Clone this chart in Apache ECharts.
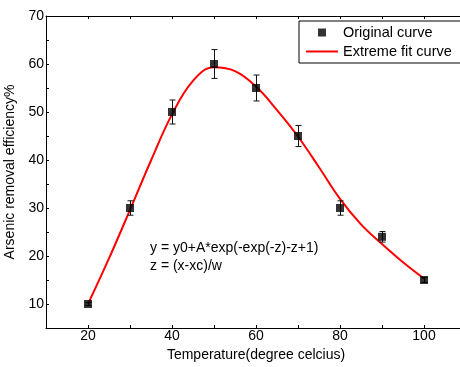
<!DOCTYPE html>
<html>
<head>
<meta charset="utf-8">
<script src="https://cdn.jsdelivr.net/npm/echarts@6/dist/echarts.min.js"></script>
<style>
  html, body { margin: 0; padding: 0; background: #fff; }
  #chart { width: 460px; height: 367px; }
</style>
</head>
<body>
<div id="chart"></div>
<script>
// measured points with error bars
const temps = [20, 30, 40, 50, 60, 70, 80, 90, 100];
const efficiency = [10, 30, 50, 60, 55, 45, 30, 24, 15];
const errors = [0.3, 1.5, 2.5, 3, 2.7, 2.2, 1.5, 1.1, 0.5];

// fitted curve
const fitX = [20, 25, 30, 35, 40, 45, 50, 55, 60, 65, 70, 75, 80, 85, 90, 95, 100];
const fitY = [10, 19.5, 29.6, 39.9, 49.5, 56.5, 59.3, 58.5, 55.3, 50.4, 44.9, 38.5, 31.9, 26.6, 22.5, 18.7, 15.3];

const font = "Liberation Sans, Arial, sans-serif";
const chart = echarts.init(document.getElementById("chart"));

chart.setOption({
  animation: false,
  textStyle: { fontFamily: font },
  grid: { left: 46, top: 16, width: 420, height: 312, outerBoundsMode: "none" },
  legend: {
    left: 299,
    top: 21,
    orient: "vertical",
    borderColor: "#000",
    borderWidth: 1,
    borderRadius: 0,
    padding: [4, 10, 4, 7],
    itemGap: 4,
    itemWidth: 32,
    itemHeight: 8,
    textStyle: { fontSize: 14.5, color: "#000", fontFamily: font },
    data: [
      { name: "Original curve", icon: "path://M0,0M32,8M12,0h8v8h-8z", itemStyle: { color: "#000" } },
      { name: "Extreme fit curve", icon: "path://M0,0M32,8M0,3h32v2h-32z", itemStyle: { color: "#ff0000" } },
    ],
  },
  xAxis: [
    {
      type: "value",
      min: 10,
      max: 110,
      interval: 10,
      name: "Temperature(degree celcius)",
      nameLocation: "middle",
      nameGap: 20,
      nameTextStyle: { fontSize: 14, color: "#000" },
      axisLine: { lineStyle: { color: "#000", width: 1 } },
      axisTick: { inside: true, length: 3, lineStyle: { color: "#000" } },
      axisLabel: {
        margin: 1,
        fontSize: 14,
        color: "#000",
        formatter: (v) => (v % 20 === 0 && v >= 20 && v <= 100 ? String(v) : ""),
      },
      splitLine: { show: false },
    },
    {
      type: "value",
      position: "top",
      min: 10,
      max: 110,
      interval: 10,
      axisLine: { show: true, lineStyle: { color: "#000", width: 1 } },
      axisTick: { inside: true, length: 3, lineStyle: { color: "#000" } },
      axisLabel: { show: false },
      splitLine: { show: false },
    },
  ],
  yAxis: {
    type: "value",
    min: 5,
    max: 70,
    interval: 5,
    name: "Arsenic removal efficiency%",
    nameLocation: "middle",
    nameGap: 22,
    nameTextStyle: { fontSize: 14, color: "#000" },
    axisLine: { show: true, lineStyle: { color: "#000", width: 1 } },
    axisTick: { inside: true, length: 3, lineStyle: { color: "#000" } },
    axisLabel: {
      margin: 2,
      fontSize: 14,
      color: "#000",
      formatter: (v) => (v % 10 === 0 ? String(v) : ""),
    },
    splitLine: { show: false },
  },
  graphic: [
    {
      type: "text",
      left: 150,
      top: 239,
      style: {
        text: "y = y0+A*exp(-exp(-z)-z+1)\nz = (x-xc)/w",
        fontSize: 14,
        lineHeight: 18,
        fill: "#000",
        fontFamily: font,
      },
    },
  ],
  series: [
    {
      name: "Extreme fit curve",
      type: "line",
      smooth: 0.4,
      showSymbol: false,
      symbol: "none",
      lineStyle: { color: "#ff0000", width: 2 },
      data: fitX.map((x, i) => [x, fitY[i]]),
      z: 3,
    },
    {
      name: "error",
      type: "custom",
      data: temps.map((t, i) => [t, efficiency[i] - errors[i], efficiency[i] + errors[i]]),
      renderItem: (params, api) => {
        const lo = api.coord([api.value(0), api.value(1)]);
        const hi = api.coord([api.value(0), api.value(2)]);
        const x = Math.round(lo[0]) + 0.5;
        const cap = 3;
        const style = { stroke: "#111", lineWidth: 1 };
        return {
          type: "group",
          children: [
            { type: "line", shape: { x1: x, y1: hi[1], x2: x, y2: lo[1] }, style },
            { type: "line", shape: { x1: x - cap, y1: hi[1], x2: x + cap, y2: hi[1] }, style },
            { type: "line", shape: { x1: x - cap, y1: lo[1], x2: x + cap, y2: lo[1] }, style },
          ],
        };
      },
      z: 4,
    },
    {
      name: "Original curve",
      type: "scatter",
      symbol: "rect",
      symbolSize: 8,
      itemStyle: { color: "#000" },
      data: temps.map((t, i) => [t, efficiency[i]]),
      z: 5,
    },
  ],
});
</script>
</body>
</html>
